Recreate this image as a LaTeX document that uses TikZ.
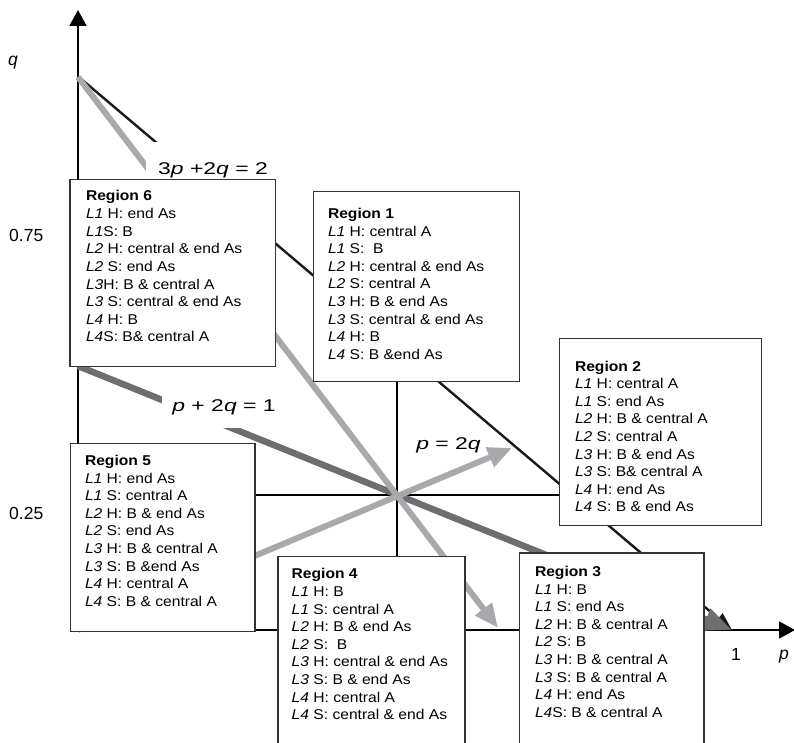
\documentclass[tikz,border=0pt]{standalone}
\usepackage{fontspec}
\setmainfont{Liberation Sans}
\newfontfamily\regfont[FakeStretch=1.1]{Liberation Sans}
\newfontfamily\labfont[FakeStretch=1.35]{Liberation Sans}
\usetikzlibrary{arrows.meta}
\definecolor{lgray}{HTML}{A7A9AC}
\definecolor{dgray}{HTML}{6D6E71}
\newcommand\Lab[1]{\textit{L#1}}
\newcommand\regtext[1]{\begin{minipage}[t]{185pt}\regfont\fontsize{14.2}{17.6}\selectfont\raggedright #1\end{minipage}}
\begin{document}
\begin{tikzpicture}[x=1pt,y=-1pt,
  regbox/.style={draw=black!80, line width=1.2pt, fill=white, rectangle, inner sep=0pt, anchor=north west},
  regtxt/.style={anchor=base west, inner sep=0pt, outer sep=0pt},
  eqlab/.style={font=\labfont\fontsize{17}{20}\selectfont, inner sep=0pt},
  axlab/.style={font=\fontsize{17.5}{20}\selectfont, inner sep=0pt, anchor=base},
  gridln/.style={line width=1.6pt, black},
  axisln/.style={line width=1.8pt, black, -{Triangle[length=16pt,width=17pt]}},
  thinln/.style={line width=2.4pt, black!90, -{Triangle[length=18pt,width=13pt]}},
  lgln/.style={line width=6pt, lgray, -{Triangle[length=24pt,width=20pt]}},
  dgln/.style={line width=6.5pt, dgray, -{Triangle[length=28pt,width=22pt]}}
]
\useasboundingbox (0,0) rectangle (794,743);
\clip (0,0) rectangle (794,743);
\fill[white] (0,0) rectangle (794,743);

\coordinate (O) at (78,630);
\coordinate (Ytip) at (78,10);
\coordinate (Xtip) at (795,630);
\coordinate (Q1) at (78,77);
\coordinate (Qb) at (80,78);
\coordinate (P1) at (732,630);
\coordinate (P23) at (498,628);
\coordinate (Qh) at (78,366);
\coordinate (Dir) at (512,448);
\coordinate (Vtop) at (397,200);
\coordinate (Vbot) at (397,630);
\coordinate (Hl) at (78,495);
\coordinate (Hr) at (760,495);

\draw[gridln] (Vtop) -- (Vbot);
\draw[gridln] (Hl) -- (Hr);
\draw[axisln] (O) -- (Ytip);
\draw[axisln] (O) -- (Xtip);
\draw[thinln] (Qb) -- (P1);
\draw[dgln] (Qh) -- (P1);
\draw[lgln] (O) -- (Dir);
\draw[lgln] (Q1) -- (P23);

\node[eqlab, fill=white, minimum width=134pt, minimum height=56pt] (e1) at (213,170) {3\textit{p} +2\textit{q} = 2};
\node[eqlab, fill=white, minimum width=125pt, minimum height=42pt] (e2) at (224,407) {\textit{p} + 2\textit{q} = 1};
\node[eqlab] (e3) at (448.5,445.7) {\textit{p} = 2\textit{q}};

\node[regbox, minimum width=205.7pt, minimum height=186.7pt] (r6) at (69.3,179.3) {};
\node[regtxt] (t6) at (86,201) {\regtext{\textbf{Region 6}\\
\Lab{1} H: end As\\
\Lab{1}S: B\\
\Lab{2} H: central \& end As\\
\Lab{2} S: end As\\
\Lab{3}H: B \& central A\\
\Lab{3} S: central \& end As\\
\Lab{4} H: B\\
\Lab{4}S: B\& central A}};

\node[regbox, minimum width=206.3pt, minimum height=190pt] (r1) at (312.7,191) {};
\node[regtxt] (t1) at (328,218.5) {\regtext{\textbf{Region 1}\\
\Lab{1} H: central A\\
\Lab{1} S:\ \ B\\
\Lab{2} H: central \& end As\\
\Lab{2} S: central A\\
\Lab{3} H: B \& end As\\
\Lab{3} S: central \& end As\\
\Lab{4} H: B\\
\Lab{4} S: B \&end As}};

\node[regbox, minimum width=202pt, minimum height=187pt] (r2) at (559,338) {};
\node[regtxt] (t2) at (575,371) {\regtext{\textbf{Region 2}\\
\Lab{1} H: central A\\
\Lab{1} S: end As\\
\Lab{2} H: B \& central A\\
\Lab{2} S: central A\\
\Lab{3} H: B \& end As\\
\Lab{3} S: B\& central A\\
\Lab{4} H: end As\\
\Lab{4} S: B \& end As}};

\node[regbox, minimum width=184.3pt, minimum height=188pt] (r5) at (70,442.7) {};
\node[regtxt] (t5) at (85,465.5) {\regtext{\textbf{Region 5}\\
\Lab{1} H: end As\\
\Lab{1} S: central A\\
\Lab{2} H: B \& end As\\
\Lab{2} S: end As\\
\Lab{3} H: B \& central A\\
\Lab{3} S: B \&end As\\
\Lab{4} H: central A\\
\Lab{4} S: B \& central A}};

\node[regbox, minimum width=187pt, minimum height=204pt] (r4) at (277.3,556) {};
\node[regtxt] (t4) at (291.7,578.8) {\regtext{\textbf{Region 4}\\
\Lab{1} H: B\\
\Lab{1} S: central A\\
\Lab{2} H: B \& end As\\
\Lab{2} S:\ \ B\\
\Lab{3} H: central \& end As\\
\Lab{3} S: B \& end As\\
\Lab{4} H: central A\\
\Lab{4} S: central \& end As}};

\node[regbox, minimum width=184.3pt, minimum height=208pt] (r3) at (519,552.3) {};
\node[regtxt] (t3) at (535,576.5) {\regtext{\textbf{Region 3}\\
\Lab{1} H: B\\
\Lab{1} S: end As\\
\Lab{2} H: B \& central A\\
\Lab{2} S: B\\
\Lab{3} H: B \& central A\\
\Lab{3} S: B \& central A\\
\Lab{4} H: end As\\
\Lab{4}S: B \& central A}};

\node[axlab] (lq) at (13,66) {\textit{q}};
\node[axlab, anchor=base west] (l75) at (9,241.7) {0.75};
\node[axlab, anchor=base west] (l25) at (9,519.3) {0.25};
\node[axlab] (l1) at (736,660) {1};
\node[axlab] (lp) at (784,659.5) {\textit{p}};
\end{tikzpicture}
\end{document}
